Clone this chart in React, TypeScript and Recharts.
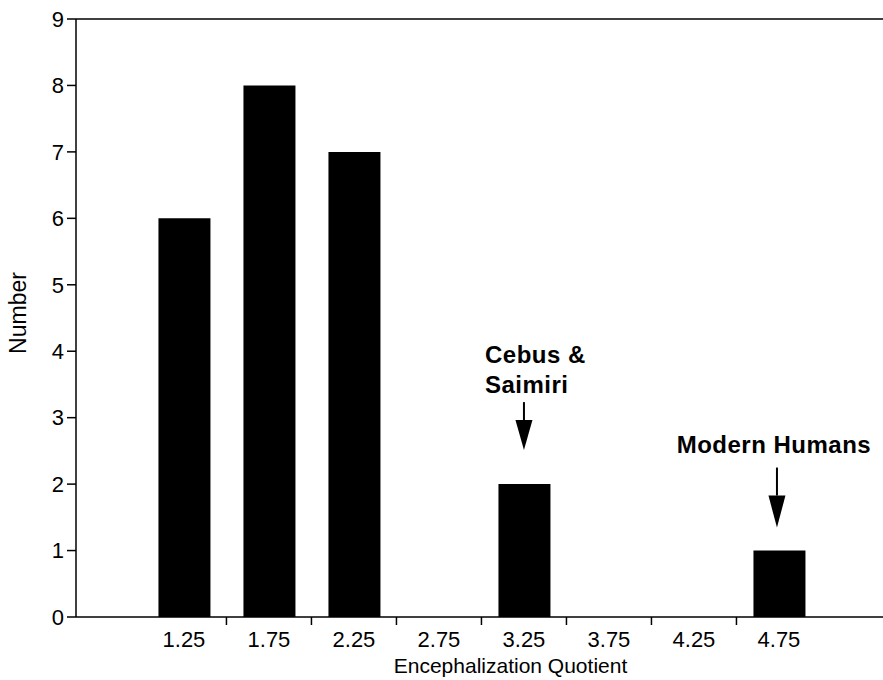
import React from 'react';
import { BarChart, Bar, XAxis, YAxis, ReferenceLine, ReferenceDot, Label } from 'recharts';

const binCenters = [1.25, 1.75, 2.25, 2.75, 3.25, 3.75, 4.25, 4.75];
const binCounts = [6, 8, 7, 0, 2, 0, 0, 1];
const binEdges = [1.5, 2, 2.5, 3, 3.5, 4, 4.5];
const xTickLabels = ['1.25', '1.75', '2.25', '2.75', '3.25', '3.75', '4.25', '4.75'];
const yTicks = [0, 1, 2, 3, 4, 5, 6, 7, 8, 9];
const annotationX = [3.25, 4.75];
const annotationY = [2, 1];
const annotationText = [['Cebus &', 'Saimiri'], ['Modern Humans']];

const data = binCenters.map((eq, i) => ({ eq, count: binCounts[i] }));
const allXTicks = [...binCenters, ...binEdges].sort((a, b) => a - b);

const FONT = '"Liberation Sans", Arial, Helvetica, sans-serif';

const XTick = (props: any) => {
  const { x, y, payload } = props;
  const v = payload.value;
  const edgeIdx = binEdges.indexOf(v);
  if (edgeIdx >= 0) {
    return <line x1={x} x2={x} y1={y} y2={y + 8} stroke="#000" strokeWidth={1.5} />;
  }
  const ci = binCenters.indexOf(v);
  return (
    <text x={x} y={y + 30} textAnchor="middle" fontSize={22} fill="#000" fontFamily={FONT}>
      {ci >= 0 ? xTickLabels[ci] : ''}
    </text>
  );
};

const styles = [
  { textDx: -39, anchor: 'start', lineBase: [-121, -91], shaftTop: -82, headTop: -64, tip: -34, arrowDx: 0 },
  { textDx: -5, anchor: 'middle', lineBase: [-98], shaftTop: -83, headTop: -55, tip: -23, arrowDx: -2 },
];

const makeAnnotation = (i: number) => (props: any) => {
  const { cx, cy } = props;
  const s = styles[i];
  const ax = cx + s.arrowDx;
  return (
    <g>
      {annotationText[i].map((t, k) => (
        <text
          key={k}
          x={cx + s.textDx}
          y={cy + s.lineBase[k]}
          textAnchor={s.anchor as any}
          fontSize={24}
          fontWeight="bold"
          letterSpacing={0.5}
          fill="#000"
          fontFamily={FONT}
        >
          {t}
        </text>
      ))}
      <line x1={ax} x2={ax} y1={cy + s.shaftTop} y2={cy + s.headTop} stroke="#000" strokeWidth={2} />
      <polygon
        points={`${ax - 8.5},${cy + s.headTop} ${ax + 8.5},${cy + s.headTop} ${ax},${cy + s.tip}`}
        fill="#000"
      />
    </g>
  );
};

const YTitle = (props: any) => {
  const vb = props.viewBox || {};
  const x = (vb.x ?? 0) + 18;
  const y = (vb.y ?? 0) + (vb.height ?? 0) / 2 - 5;
  return (
    <text
      x={x}
      y={y}
      transform={`rotate(-90, ${x}, ${y})`}
      textAnchor="middle"
      dominantBaseline="central"
      fontSize={23}
      fill="#000"
      fontFamily={FONT}
    >
      Number
    </text>
  );
};

const XTitle = (props: any) => {
  const vb = props.viewBox || {};
  const x = (vb.x ?? 0) + (vb.width ?? 0) / 2 + 31;
  const y = (vb.y ?? 0) + 56;
  return (
    <text x={x} y={y} textAnchor="middle" fontSize={21} fill="#000" fontFamily={FONT}>
      Encephalization Quotient
    </text>
  );
};

export default function App() {
  return (
    <div style={{ position: 'absolute', left: 0, top: 0, width: 883, height: 680, background: '#fff', fontFamily: FONT }}>
      <BarChart width={883} height={680} data={data} margin={{ top: 19, right: 0, bottom: 0, left: 0 }}>
        <XAxis
          dataKey="eq"
          type="number"
          domain={[0.615, 5.362]}
          ticks={allXTicks}
          interval={0}
          tickSize={0}
          tickMargin={0}
          tickLine={false}
          tick={<XTick />}
          axisLine={{ stroke: '#000', strokeWidth: 1.5 }}
          height={63}
          allowDataOverflow
        >
          <Label content={<XTitle />} />
        </XAxis>
        <YAxis
          type="number"
          domain={[0, 9]}
          ticks={yTicks}
          interval={0}
          width={76}
          tickSize={9}
          tickMargin={3}
          tick={{ fill: '#000', fontSize: 22, fontFamily: FONT }}
          tickLine={{ stroke: '#000', strokeWidth: 1.5 }}
          axisLine={{ stroke: '#000', strokeWidth: 1.5 }}
        >
          <Label content={<YTitle />} />
        </YAxis>
        <ReferenceLine y={9} stroke="#000" strokeWidth={1.5} />
        <Bar dataKey="count" fill="#000" barSize={52} isAnimationActive={false} />
        {annotationX.map((ax, i) => (
          <ReferenceDot key={i} x={ax} y={annotationY[i]} r={0} shape={makeAnnotation(i)} />
        ))}
      </BarChart>
    </div>
  );
}
